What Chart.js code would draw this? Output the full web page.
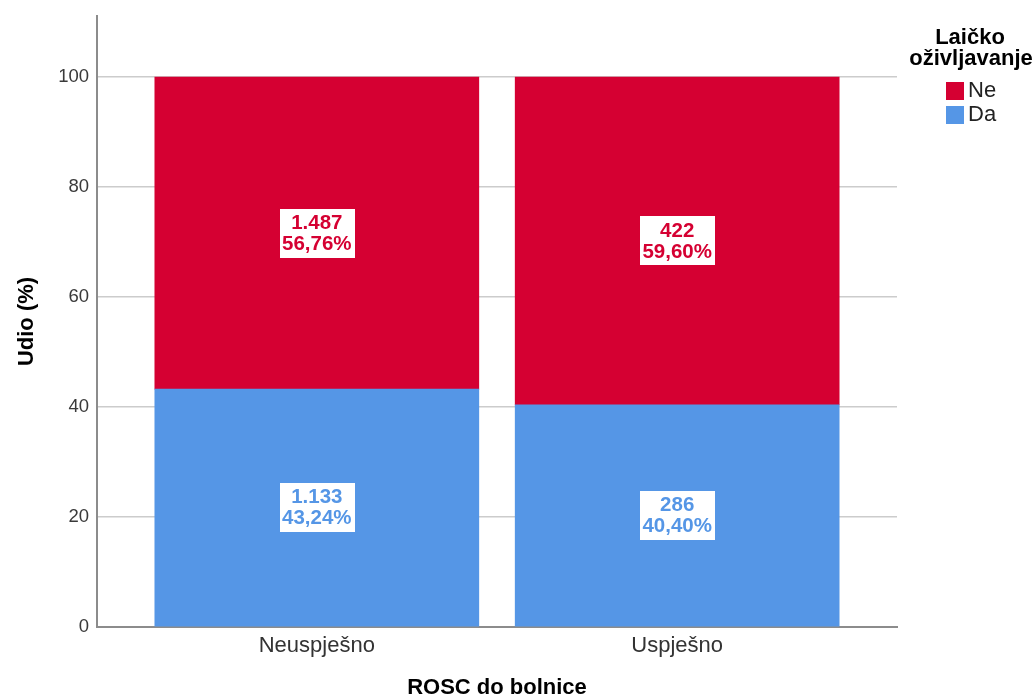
<!DOCTYPE html>
<html>
<head>
<meta charset="utf-8">
<script src="https://cdn.jsdelivr.net/npm/chart.js@4/dist/chart.umd.min.js"></script>
<style>
html,body{margin:0;padding:0;background:#fff;}
#wrap{width:1036px;height:699px;position:relative;}
</style>
</head>
<body>
<div id="wrap"><canvas id="c" width="1036" height="699"></canvas></div>
<script>
// ---- data ----
const categories = ['Neuspješno', 'Uspješno'];
const seriesNames = ['Ne', 'Da'];
const daPercent = [43.24, 40.40];
const nePercent = [56.76, 59.60];
const daCount = ['1.133', '286'];
const neCount = ['1.487', '422'];
const daPctLabel = ['43,24%', '40,40%'];
const nePctLabel = ['56,76%', '59,60%'];
const yTicks = [0, 20, 40, 60, 80, 100];
const legendTitle = ['Laičko', 'oživljavanje'];

const RED = '#D50032';
const BLUE = '#5596E6';
const FONT = "'Liberation Sans', Arial, sans-serif";

const daData = categories.map((c, i) => ({x: i, y: daPercent[i]}));
const neData = categories.map((c, i) => ({x: i, y: nePercent[i]}));

const labelPlugin = {
  id: 'segLabels',
  afterDatasetsDraw(chart) {
    const ctx = chart.ctx;
    const sets = [
      {meta: chart.getDatasetMeta(0), counts: daCount, pcts: daPctLabel, color: BLUE},
      {meta: chart.getDatasetMeta(1), counts: neCount, pcts: nePctLabel, color: RED}
    ];
    ctx.save();
    ctx.font = "bold 20.5px " + FONT;
    ctx.textAlign = 'center';
    ctx.textBaseline = 'middle';
    sets.forEach(s => {
      s.meta.data.forEach((el, i) => {
        const cx = el.x;
        const cy = (el.y + el.base) / 2;
        const w = Math.max(ctx.measureText(s.counts[i]).width, ctx.measureText(s.pcts[i]).width) + 5;
        const h = 49;
        ctx.fillStyle = '#ffffff';
        ctx.fillRect(Math.round(cx - w / 2), Math.round(cy - h / 2), Math.round(w), h);
        ctx.fillStyle = s.color;
        ctx.fillText(s.counts[i], cx, cy - 10);
        ctx.fillText(s.pcts[i], cx, cy + 11);
      });
    });
    ctx.restore();
  },
  afterDraw(chart) {
    const ctx = chart.ctx;
    ctx.save();
    ctx.fillStyle = '#000';
    ctx.font = "bold 22px " + FONT;
    ctx.textAlign = 'center';
    ctx.textBaseline = 'alphabetic';
    ctx.fillText(legendTitle[0], 970, 44);
    ctx.fillText(legendTitle[1], 971, 65);
    const items = [
      {name: seriesNames[0], color: RED},
      {name: seriesNames[1], color: BLUE}
    ];
    ctx.textAlign = 'left';
    ctx.textBaseline = 'middle';
    ctx.font = "22px " + FONT;
    items.forEach((it, k) => {
      const y = 82 + k * 24;
      ctx.fillStyle = it.color;
      ctx.fillRect(946, y, 18, 18);
      ctx.fillStyle = '#222';
      ctx.fillText(it.name, 968, y + 9);
    });
    ctx.restore();
  }
};

new Chart(document.getElementById('c'), {
  type: 'bar',
  data: {
    datasets: [
      {label: seriesNames[1], data: daData, backgroundColor: BLUE, borderWidth: 0, stack: 's', barThickness: 324},
      {label: seriesNames[0], data: neData, backgroundColor: RED, borderWidth: 0, stack: 's', barThickness: 324}
    ]
  },
  options: {
    responsive: false,
    animation: false,
    devicePixelRatio: 1,
    layout: {padding: {left: 0, top: 16, right: 139, bottom: 0}},
    plugins: {legend: {display: false}, tooltip: {enabled: false}},
    scales: {
      x: {
        type: 'linear',
        stacked: true,
        offset: false,
        min: -0.61,
        max: 1.61,
        afterBuildTicks: (scale) => { scale.ticks = categories.map((c, i) => ({value: i})); },
        afterFit: (scale) => { scale.height = 72; scale.paddingLeft = 0; scale.paddingRight = 0; },
        grid: {display: false, drawTicks: false, offset: false},
        border: {display: true, color: '#8c8c8c', width: 2},
        ticks: {
          callback: (v) => categories[v] !== undefined ? categories[v] : '',
          font: {family: FONT, size: 22},
          color: '#333',
          padding: 6,
          maxRotation: 0,
          autoSkip: false
        },
        title: {
          display: true,
          text: 'ROSC do bolnice',
          font: {family: FONT, size: 22, weight: 'bold', lineHeight: 1},
          color: '#000',
          padding: {top: 0, bottom: 0}
        }
      },
      y: {
        type: 'linear',
        stacked: true,
        min: 0,
        max: 111.1,
        afterBuildTicks: (scale) => { scale.ticks = yTicks.map(v => ({value: v})); },
        afterFit: (scale) => { scale.width = 97; scale.paddingTop = 0; scale.paddingBottom = 0; },
        grid: {display: true, drawTicks: false, color: '#cccccc', lineWidth: 1.5},
        border: {display: true, color: '#8c8c8c', width: 2},
        ticks: {
          font: {family: FONT, size: 18.5},
          color: '#3a3a3a',
          padding: 8
        },
        title: {
          display: true,
          text: 'Udio (%)',
          font: {family: FONT, size: 22, weight: 'bold'},
          color: '#000',
          padding: {top: 14, bottom: 0}
        }
      }
    }
  },
  plugins: [labelPlugin]
});
</script>
</body>
</html>
